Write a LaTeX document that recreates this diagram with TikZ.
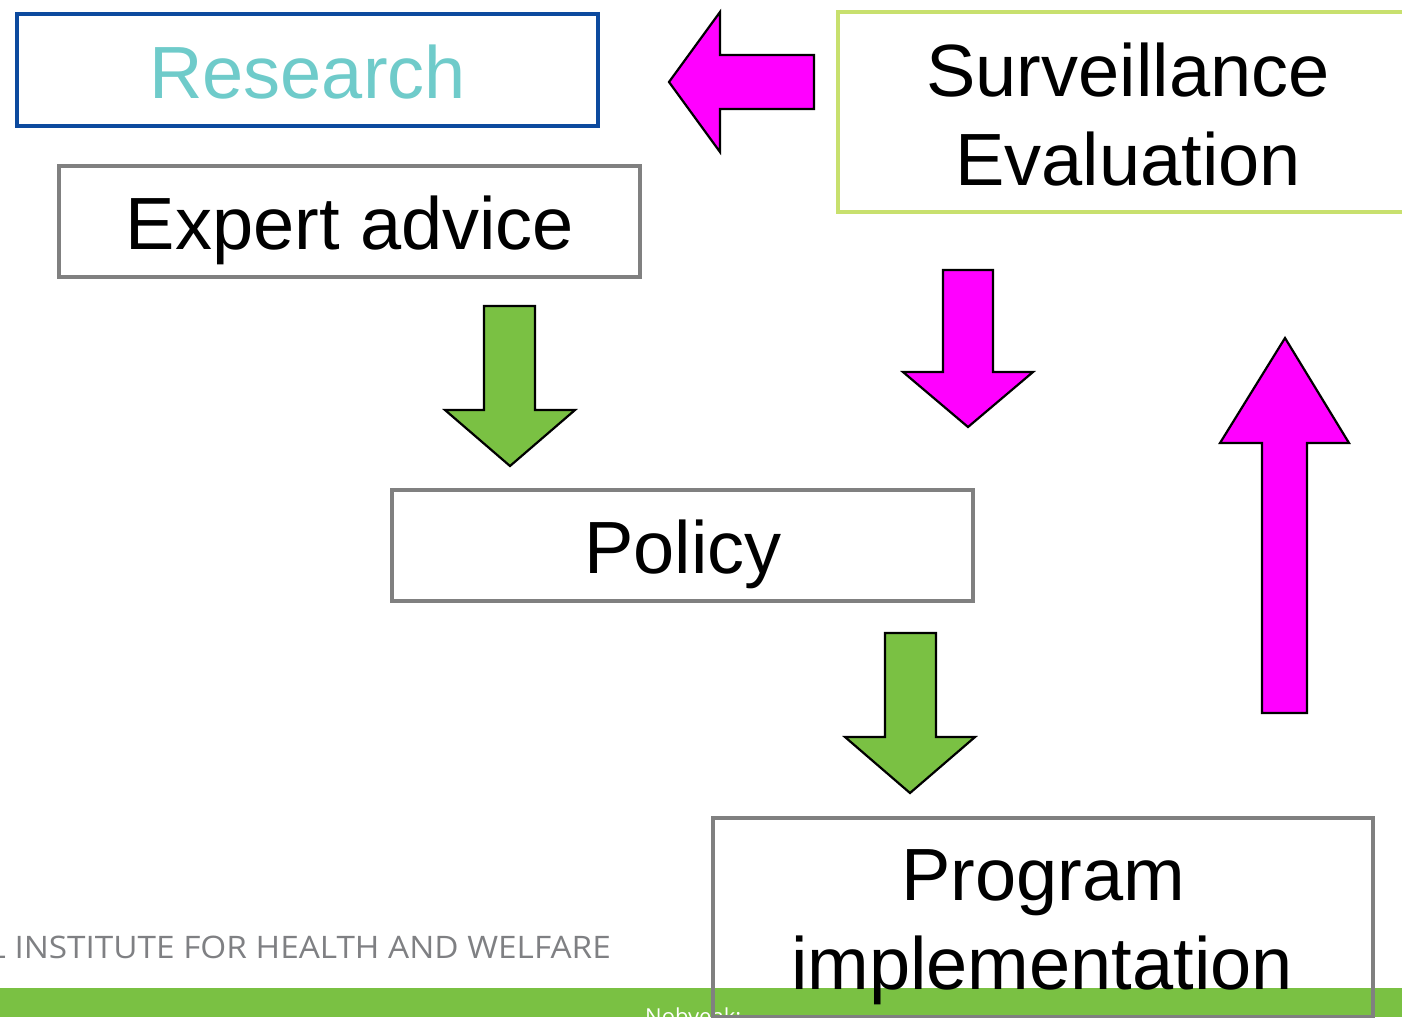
\documentclass[tikz,border=0pt]{standalone}
\usepackage{fontspec}
\setmainfont{Liberation Sans}
\newfontfamily\footfont{Open Sans}
\definecolor{mag}{HTML}{FF00FF}
\definecolor{agreen}{HTML}{7AC143}
\definecolor{rblue}{HTML}{0D4A9E}
\definecolor{rteal}{HTML}{6FCBCA}
\definecolor{sgreen}{HTML}{C8E06E}
\definecolor{bgray}{HTML}{808080}
\definecolor{fgray}{HTML}{7F8083}
\begin{document}
\begin{tikzpicture}[x=1pt,y=-1pt,
  box/.style={draw=bgray, line width=4pt, rectangle, inner sep=0pt},
  big/.style={font=\fontsize{74}{89}\selectfont, inner sep=0pt, anchor=base},
  blockarrow/.style={draw=black, line width=2.2pt, line join=miter}]
\useasboundingbox (0,0) rectangle (1402,1017);
\clip (0,0) rectangle (1402,1017);
% footer
\fill[agreen] (0,988) rectangle (1402,1017);
\node[anchor=base east, inner sep=0pt, text=fgray, font=\footfont\fontsize{31}{31}\selectfont] (inst) at (611,958) {\scalebox{1.075}[1]{NATIONAL INSTITUTE FOR HEALTH AND WELFARE}};
\node[anchor=base west, inner sep=0pt, text=white, font=\footfont\fontsize{22}{22}\selectfont] (nob) at (645,1024) {Nobyeak:};
\node[anchor=base east, inner sep=0pt, text=white, font=\footfont\fontsize{22}{22}\selectfont] (pg) at (5,1024) {1};
% boxes
\node[box, draw=rblue, minimum width=581pt, minimum height=112pt] (research) at (307.5,70) {};
\node[box, minimum width=581pt, minimum height=111pt] (expert) at (349.5,221.5) {};
\node[box, minimum width=581pt, minimum height=111pt] (policy) at (682.5,545.5) {};
\node[box, draw=sgreen, minimum width=582pt, minimum height=200pt] (surv) at (1129,112) {};
\node[box, minimum width=660pt, minimum height=199pt] (prog) at (1043,917) {};
% texts
\node[big, text=rteal] (tresearch) at (307.5,98) {Research};
\node[big] (texpert) at (350,249) {Expert advice};
\node[big] (tpolicy) at (683,573) {Policy};
\node[big] (tsurv1) at (1128,96) {Surveillance};
\node[big] (tsurv2) at (1128,185) {Evaluation};
\node[big] (tprog1) at (1043,900) {Program};
\node[big] (tprog2) at (1042,989) {implementation};
% block arrows
\draw[blockarrow, fill=mag] (669,82) -- (720,12) -- (720,55) -- (814,55) -- (814,109) -- (720,109) -- (720,152) -- cycle;
\draw[blockarrow, fill=agreen] (484,306) -- (535,306) -- (535,410) -- (575,410) -- (510,466) -- (445,410) -- (484,410) -- cycle;
\draw[blockarrow, fill=mag] (943,270) -- (993,270) -- (993,372) -- (1033,372) -- (968,427) -- (903,372) -- (943,372) -- cycle;
\draw[blockarrow, fill=agreen] (885,633) -- (936,633) -- (936,737) -- (975,737) -- (910,793) -- (845,737) -- (885,737) -- cycle;
\draw[blockarrow, fill=mag] (1262,713) -- (1307,713) -- (1307,443) -- (1349,443) -- (1285,338) -- (1220,443) -- (1262,443) -- cycle;
\end{tikzpicture}
\end{document}
